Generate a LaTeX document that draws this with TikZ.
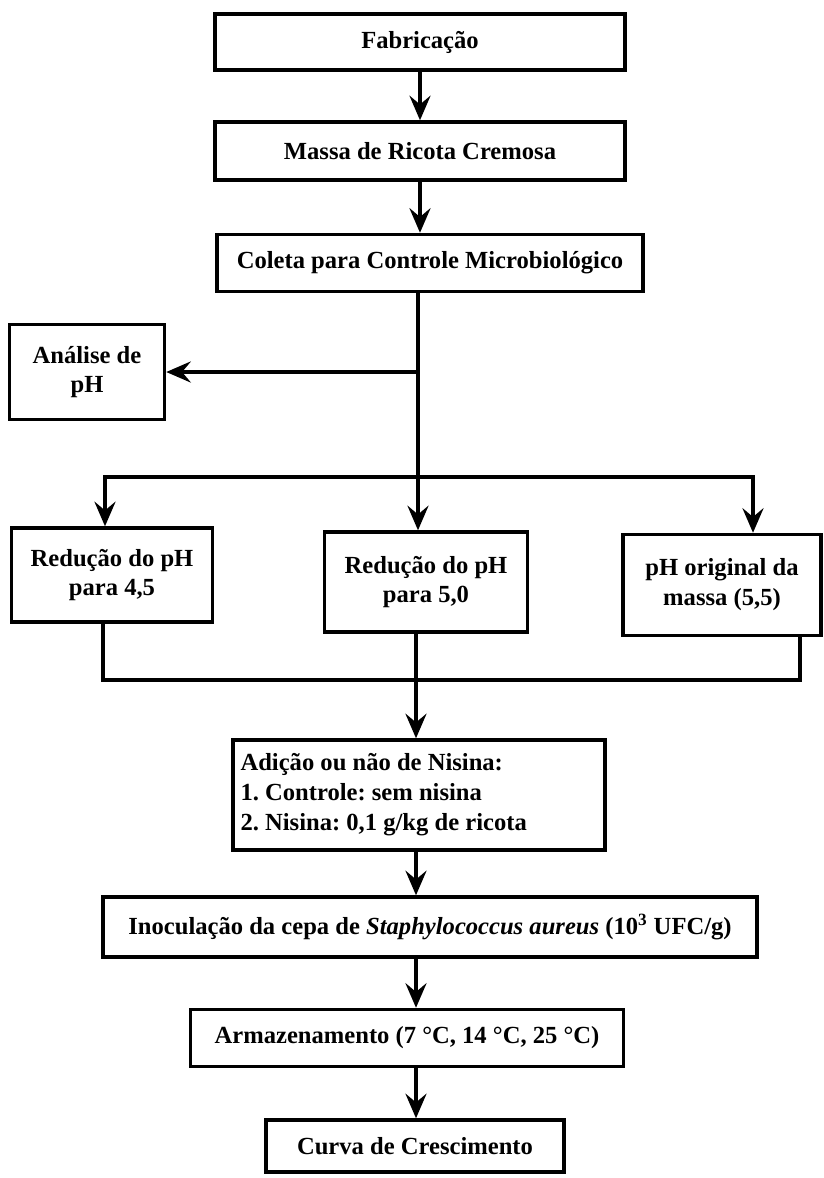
\documentclass[tikz,border=0pt]{standalone}
\usepackage{fontspec}
\setmainfont{Liberation Serif}
\usetikzlibrary{arrows.meta,positioning}
\frenchspacing

\begin{document}
\begin{tikzpicture}[>={Stealth[length=14pt,width=12pt,inset=5pt]},x=0.02cm,y=-0.02cm,
  caixa/.style={draw,line width=2pt,inner sep=0pt,align=flush center,
    font=\fontsize{14}{17}\selectfont\bfseries},
  seta/.style={line width=2pt}]
  \useasboundingbox (0,0) rectangle (823,1178);

  \node[caixa,minimum width=8.2cm,minimum height=1.12cm] (fab) at (420,42) {Fabricação};
  \node[caixa,minimum width=8.2cm,minimum height=1.16cm] (massa) at (420,151) {Massa de Ricota Cremosa};
  \node[caixa,minimum width=8.52cm,minimum height=1.14cm] (coleta) at (430,263) {Coleta para Controle Microbiológico};
  \node[caixa,minimum width=3.1cm,minimum height=1.9cm] (analise) at (87,372) {Análise de\\pH};

  \node[caixa,minimum width=4.02cm,minimum height=1.88cm] (red45) at (112,575) {Redução do pH\\para 4,5};
  \node[caixa,minimum width=4.06cm,minimum height=2.0cm] (red50) at (426,582) {Redução do pH\\para 5,0};
  \node[caixa,minimum width=3.96cm,minimum height=2.02cm] (phorig) at (722,585) {pH original da\\massa (5,5)};

  \node[caixa,minimum height=2.2cm,text width=7.14cm,inner xsep=0.15cm,align=flush left] (nisina) at (419,795)
    {Adição ou não de Nisina:\\1. Controle: sem nisina\\2. Nisina: 0,1 g/kg de ricota};
  \node[caixa,minimum width=13.08cm,minimum height=1.2cm] (inoc) at (430,927)
    {Inoculação da cepa de \textit{Staphylococcus aureus} (10\textsuperscript{3} UFC/g)};
  \node[caixa,minimum width=8.66cm,minimum height=1.14cm] (armaz) at (407,1038) {Armazenamento (7 °C, 14 °C, 25 °C)};
  \node[caixa,minimum width=5.96cm,minimum height=1.04cm] (curva) at (415,1146) {Curva de Crescimento};

  % pontos de ramificacao
  \coordinate (tronco) at (418,477);
  \coordinate (ramoE) at (105,477);
  \coordinate (ramoD) at (753,477);
  \coordinate (uneE) at (103,680);
  \coordinate (uneD) at (800,680);
  \coordinate (une) at (416,680);

  \draw[seta,->] (fab) -- (massa);
  \draw[seta,->] (massa.south) -- (massa.south |- coleta.north);
  \draw[seta] (coleta.south -| tronco) -- (tronco);
  \draw[seta,->] (tronco |- analise.east) -- (analise.east);

  \draw[seta,->] (tronco) -- (ramoE) -- (ramoE |- red45.north);
  \draw[seta,->] (tronco) -- (tronco |- red50.north);
  \draw[seta,->] (tronco) -- (ramoD) -- (ramoD |- phorig.north);

  \draw[seta] (uneE |- red45.south) -- (uneE) -- (uneD) -- (uneD |- phorig.south);
  \draw[seta] (une |- red50.south) -- (une);
  \draw[seta,->] (une) -- (une |- nisina.north);

  \draw[seta,->] (nisina.south -| une) -- (une |- inoc.north);
  \draw[seta,->] (inoc.south -| une) -- (une |- armaz.north);
  \draw[seta,->] (armaz.south -| une) -- (une |- curva.north);
\end{tikzpicture}
\end{document}
